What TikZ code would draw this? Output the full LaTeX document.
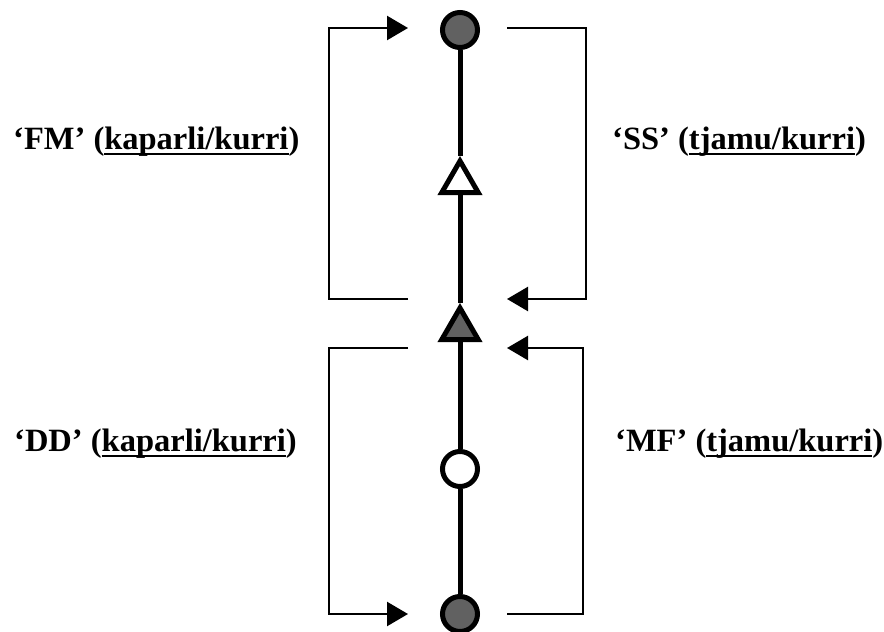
\documentclass[tikz,border=0pt]{standalone}
\usepackage{fontspec}
\setmainfont{Liberation Serif}
\usetikzlibrary{arrows.meta,positioning,calc,shapes.geometric}
\definecolor{dotfill}{HTML}{616161}
\newcommand{\kinul}[1]{\leavevmode\setbox0\hbox{#1}\rlap{\rule[-6pt]{\wd0}{1.8pt}}\box0}
\tikzset{
  kindot/.style={circle,draw=black,line width=5pt,minimum size=35pt,inner sep=0pt},
  kintri/.style={regular polygon,regular polygon sides=3,draw=black,line width=5pt,
    minimum size=42pt,inner sep=0pt},
  spine/.style={draw=black,line width=5pt},
  turn/.style={-{Triangle[length=21pt,width=24pt]},draw=black,line width=2.4pt},
  termlabel/.style={font=\bfseries\fontsize{32.5}{38}\selectfont,inner sep=0pt}
}
\begin{document}
\begin{tikzpicture}[x=1pt,y=-1pt]
  \useasboundingbox (0,0) rectangle (884,632);
  % generations along the spine
  \node[kindot,fill=dotfill] (top) at (460,30) {};
  \node[kintri,fill=white] (wtri) at (460,182) {};
  \node[kintri,fill=dotfill] (gtri) at (460,329) {};
  \node[kindot,fill=white] (wcir) at (460,469) {};
  \node[kindot,fill=dotfill] (bot) at (460,614) {};
  \draw[spine] (bot)--(wcir)--(gtri)--(wtri)--(top);
  % bracket ends
  \coordinate (fmA) at (408,299);
  \coordinate (fmB) at (408,28);
  \coordinate (ssA) at (507,28);
  \coordinate (ssB) at (507,299);
  \coordinate (ddA) at (408,348);
  \coordinate (ddB) at (408,614);
  \coordinate (mfA) at (507,614);
  \coordinate (mfB) at (507,348);
  \draw[turn] (fmA) -- ++(-79,0) |- (fmB);
  \draw[turn] (ssA) -- ++(79,0) |- (ssB);
  \draw[turn] (ddA) -- ++(-79,0) |- (ddB);
  \draw[turn] (mfA) -- ++(76,0) |- (mfB);
  % terms
  \node[termlabel,anchor=base west] (fm) at (13,149) {‘FM’ (\kinul{kaparli/kurri})};
  \node[termlabel,anchor=base west] (ss) at (612,149) {‘SS’ (\kinul{tjamu/kurri})};
  \node[termlabel,anchor=base west] (dd) at (14,451) {‘DD’ (\kinul{kaparli/kurri})};
  \node[termlabel,anchor=base west] (mf) at (615,451) {‘MF’ (\kinul{tjamu/kurri})};
\end{tikzpicture}
\end{document}
